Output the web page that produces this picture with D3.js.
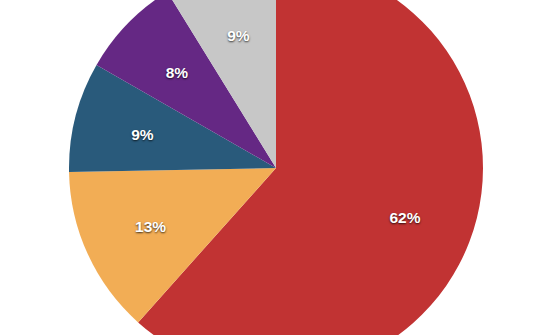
<!DOCTYPE html>
<html><head><meta charset="utf-8">
<script src="https://cdn.jsdelivr.net/npm/d3@7"></script>
<style>
html,body{margin:0;padding:0;background:#fff;overflow:hidden}
svg text{font-family:"Liberation Sans",Arial,sans-serif;font-weight:bold;font-size:15.5px;fill:#fff;text-shadow:0 1px 2px rgba(0,0,0,0.75);}
</style></head>
<body>
<script>
const categories = ["A","B","C","D","E"];
const values = [61.6, 13.1, 8.6, 7.9, 8.8];
const colors = ["#c13333","#f2ad55","#295a7b","#652884","#c7c7c7"];

const W = 540, H = 335;
const cx = 276, cy = 168, R = 207, labelR = 138;

const svg = d3.select("body").append("svg").attr("width", W).attr("height", H);
const g = svg.append("g").attr("transform", `translate(${cx},${cy})`);

const data = categories.map((c, i) => ({cat: c, value: values[i], color: colors[i]}));
const pie = d3.pie().value(d => d.value).sort(null);
const arcs = pie(data);
const total = d3.sum(values);
const arc = d3.arc().innerRadius(0).outerRadius(R);
const labelArc = d3.arc().innerRadius(labelR).outerRadius(labelR);

g.selectAll("path").data(arcs).join("path")
  .attr("d", arc).attr("fill", d => d.data.color);

g.selectAll("text").data(arcs).join("text")
  .attr("transform", d => `translate(${labelArc.centroid(d)})`)
  .attr("text-anchor", "middle").attr("dy", "0.4em")
  .text(d => Math.round(d.data.value / total * 100) + "%");
</script>
</body></html>
